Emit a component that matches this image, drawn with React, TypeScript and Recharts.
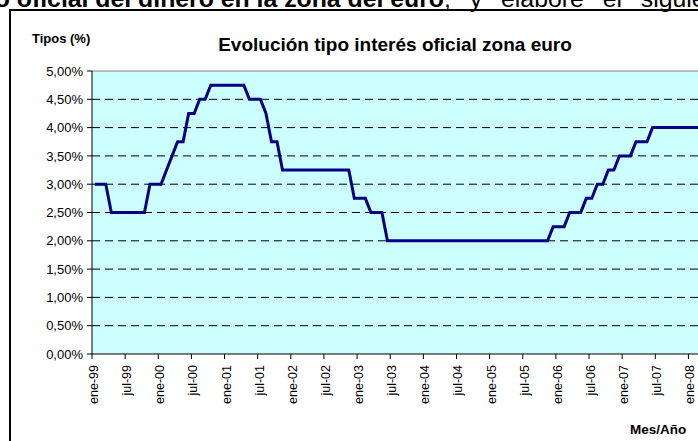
import { LineChart, Line, XAxis, YAxis, CartesianGrid, ReferenceLine } from 'recharts'

const FONT = '"Liberation Sans", Arial, sans-serif'

// tipo oficial BCE, valor de cada mes (ene-99 .. mar-08)
const rates1999 = [3.0, 3.0, 3.0, 2.5, 2.5, 2.5, 2.5, 2.5, 2.5, 2.5, 3.0, 3.0]
const rates2000 = [3.0, 3.25, 3.5, 3.75, 3.75, 4.25, 4.25, 4.5, 4.5, 4.75, 4.75, 4.75]
const rates2001 = [4.75, 4.75, 4.75, 4.75, 4.5, 4.5, 4.5, 4.25, 3.75, 3.75, 3.25, 3.25]
const rates2002 = [3.25, 3.25, 3.25, 3.25, 3.25, 3.25, 3.25, 3.25, 3.25, 3.25, 3.25, 2.75]
const rates2003 = [2.75, 2.75, 2.5, 2.5, 2.5, 2.0, 2.0, 2.0, 2.0, 2.0, 2.0, 2.0]
const rates2004 = [2.0, 2.0, 2.0, 2.0, 2.0, 2.0, 2.0, 2.0, 2.0, 2.0, 2.0, 2.0]
const rates2005 = [2.0, 2.0, 2.0, 2.0, 2.0, 2.0, 2.0, 2.0, 2.0, 2.0, 2.0, 2.25]
const rates2006 = [2.25, 2.25, 2.5, 2.5, 2.5, 2.75, 2.75, 3.0, 3.0, 3.25, 3.25, 3.5]
const rates2007 = [3.5, 3.5, 3.75, 3.75, 3.75, 4.0, 4.0, 4.0, 4.0, 4.0, 4.0, 4.0]
const rates2008 = [4.0, 4.0, 4.0]

const tickLabels = [
    'ene-99', 'jul-99', 'ene-00', 'jul-00', 'ene-01', 'jul-01', 'ene-02', 'jul-02',
    'ene-03', 'jul-03', 'ene-04', 'jul-04', 'ene-05', 'jul-05', 'ene-06', 'jul-06',
    'ene-07', 'jul-07', 'ene-08',
]

const yTicks = [0, 0.5, 1, 1.5, 2, 2.5, 3, 3.5, 4, 4.5, 5]
const gridValues = [0.5, 1, 1.5, 2, 2.5, 3, 3.5, 4, 4.5]

const rates = [
    ...rates1999, ...rates2000, ...rates2001, ...rates2002, ...rates2003,
    ...rates2004, ...rates2005, ...rates2006, ...rates2007, ...rates2008,
]

// t = mes desde ene-99, punto en el centro del mes
const data = rates.map((rate, i) => ({ t: i + 0.5, rate }))
const xTicks = tickLabels.map((_, i) => i * 6)

const formatPct = (v: number) => v.toFixed(2).replace('.', ',') + '%'

function MonthTick({ x, y, payload }: any) {
    return (
        <text
            x={x}
            y={y}
            dy={6}
            transform={`rotate(-90, ${x}, ${y})`}
            textAnchor="end"
            fontSize={12.5}
            fontFamily={FONT}
            fill="#000"
        >
            {tickLabels[Math.round(payload.value / 6)]}
        </text>
    )
}

export default function App() {
    return (
        <div
            style={{
                position: 'absolute',
                left: 0,
                top: 0,
                width: 698,
                height: 441,
                overflow: 'hidden',
                background: '#fff',
                fontFamily: FONT,
            }}
        >
            <div
                style={{
                    position: 'absolute',
                    left: -35.5,
                    top: -13,
                    fontSize: 24.8,
                    lineHeight: '24px',
                    whiteSpace: 'nowrap',
                    color: '#000',
                }}
            >
                <b>tipo oficial del dinero en la zona del euro</b>
                <span style={{ wordSpacing: 12 }}>, y elabore el siguiente gráfico:</span>
            </div>

            <div
                style={{
                    position: 'absolute',
                    left: 9,
                    top: 9,
                    width: 800,
                    height: 600,
                    borderLeft: '2px solid #000',
                    borderTop: '2px solid #000',
                }}
            />

            <div
                style={{
                    position: 'absolute',
                    left: 32,
                    top: 31,
                    fontSize: 13,
                    fontWeight: 'bold',
                    lineHeight: '16px',
                    whiteSpace: 'nowrap',
                }}
            >
                Tipos (%)
            </div>

            <div
                style={{
                    position: 'absolute',
                    left: 215,
                    width: 360,
                    top: 34,
                    fontSize: 19,
                    fontWeight: 'bold',
                    lineHeight: '22px',
                    textAlign: 'center',
                    whiteSpace: 'nowrap',
                }}
            >
                Evolución tipo interés oficial zona euro
            </div>

            <div
                style={{
                    position: 'absolute',
                    left: 630,
                    top: 422,
                    fontSize: 13.5,
                    fontWeight: 'bold',
                    lineHeight: '16px',
                    whiteSpace: 'nowrap',
                }}
            >
                Mes/Año
            </div>

            <div style={{ position: 'absolute', left: 0, top: 0 }}>
                <LineChart
                    width={712}
                    height={441}
                    data={data}
                    margin={{ top: 71, right: 7, left: 0, bottom: 0 }}
                >
                    <CartesianGrid
                        vertical={false}
                        horizontalValues={gridValues}
                        stroke="#000"
                        strokeDasharray="8 5"
                        fill="#CCFFFF"
                        fillOpacity={1}
                    />
                    <ReferenceLine y={5} stroke="#808080" strokeWidth={1} />
                    <XAxis
                        type="number"
                        dataKey="t"
                        domain={[0, rates.length]}
                        ticks={xTicks}
                        interval={0}
                        height={87}
                        stroke="#000"
                        tickSize={5}
                        tickMargin={6}
                        tick={<MonthTick />}
                    />
                    <YAxis
                        domain={[0, 5]}
                        ticks={yTicks}
                        interval={0}
                        width={92}
                        stroke="#000"
                        tickSize={5}
                        tickMargin={4}
                        tickFormatter={formatPct}
                        tick={{ fill: '#000', fontSize: 13, fontFamily: FONT }}
                    />
                    <Line
                        type="linear"
                        dataKey="rate"
                        stroke="#000080"
                        strokeWidth={3}
                        dot={false}
                        isAnimationActive={false}
                    />
                </LineChart>
            </div>
        </div>
    )
}
